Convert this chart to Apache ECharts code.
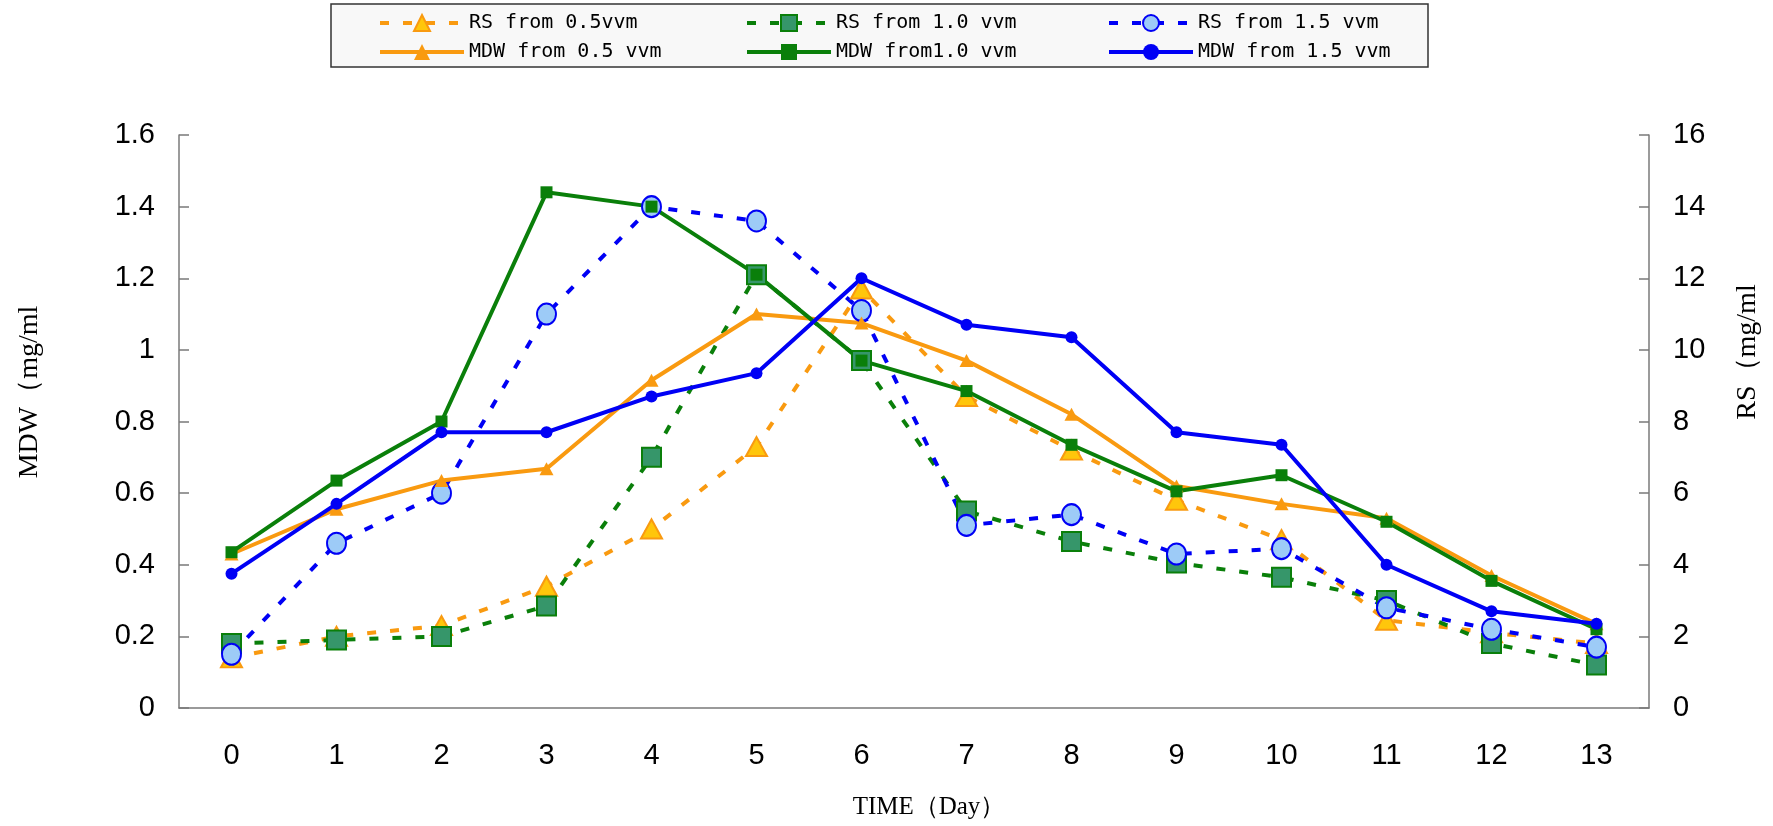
<!DOCTYPE html>
<html>
<head>
<meta charset="utf-8">
<script src="https://cdn.jsdelivr.net/npm/echarts@6/dist/echarts.min.js"></script>
<style>
  html, body { margin: 0; padding: 0; background: #fff; }
  #chart { width: 1773px; height: 826px; }
</style>
</head>
<body>
<div id="chart"></div>
<script>
// 时间（天）
var days = ['0', '1', '2', '3', '4', '5', '6', '7', '8', '9', '10', '11', '12', '13'];

// MDW (mg/ml) 左轴
var mdw05 = [0.43, 0.555, 0.635, 0.668, 0.915, 1.10, 1.075, 0.97, 0.82, 0.62, 0.57, 0.53, 0.37, 0.235];
var mdw10 = [0.435, 0.635, 0.80, 1.44, 1.40, 1.21, 0.97, 0.885, 0.735, 0.605, 0.65, 0.52, 0.355, 0.22];
var mdw15 = [0.375, 0.57, 0.77, 0.77, 0.87, 0.935, 1.20, 1.07, 1.035, 0.77, 0.735, 0.40, 0.27, 0.235];

// RS (mg/ml) 右轴
var rs05 = [1.4, 2.0, 2.3, 3.4, 5.0, 7.3, 11.7, 8.7, 7.2, 5.8, 4.7, 2.45, 2.1, 1.8];
var rs10 = [1.8, 1.9, 2.0, 2.85, 7.0, 12.1, 9.7, 5.5, 4.65, 4.05, 3.65, 3.0, 1.8, 1.2];
var rs15 = [1.5, 4.6, 6.0, 11.0, 14.0, 13.6, 11.1, 5.1, 5.4, 4.3, 4.45, 2.8, 2.2, 1.7];

var leftTicks = { min: 0, max: 1.6, interval: 0.2 };
var rightTicks = { min: 0, max: 16, interval: 2 };

var ORANGE = '#F99A10';
var GREEN = '#0A7F0A';
var BLUE = '#0000F5';

var legendText = { fontFamily: 'DejaVu Sans Mono', fontSize: 20, color: '#000' };
function legendCol(left, names) {
  return {
    orient: 'vertical',
    left: left,
    top: 13,
    padding: 0,
    itemWidth: 84,
    itemHeight: 20,
    itemGap: 9,
    lineStyle: { width: 4 },
    textStyle: legendText,
    data: names
  };
}

function dashed(name, data, color, symbol, size, fill) {
  return {
    name: name,
    type: 'line',
    yAxisIndex: 1,
    data: data,
    symbol: symbol,
    symbolSize: size,
    showAllSymbol: true,
    lineStyle: { color: color, width: 4, type: [9, 14] },
    itemStyle: { color: fill, borderColor: color, borderWidth: 2 }
  };
}

function solid(name, data, color, symbol, size) {
  return {
    name: name,
    type: 'line',
    yAxisIndex: 0,
    data: data,
    symbol: symbol,
    symbolSize: size,
    showAllSymbol: true,
    lineStyle: { color: color, width: 4 },
    itemStyle: { color: color, borderColor: color, borderWidth: 0 }
  };
}

var axisColor = '#7a7a7a';
var tickFont = { fontFamily: 'Liberation Sans', fontSize: 29, color: '#000' };
var nameFont = { fontFamily: 'Liberation Serif', fontSize: 25, fill: '#000' };
var sideNameFont = { fontFamily: 'Liberation Serif', fontSize: 28, fill: '#000' };

var option = {
  backgroundColor: '#fff',
  animation: false,
  graphic: [
    {
      type: 'rect',
      shape: { x: 331, y: 4, width: 1097, height: 63 },
      style: { fill: '#f8f8f8', stroke: '#333', lineWidth: 1.5 },
      z: -1
    },
    {
      type: 'text',
      x: 30, y: 392, rotation: Math.PI / 2,
      style: Object.assign({ text: 'MDW（mg/ml', align: 'center', verticalAlign: 'middle' }, sideNameFont)
    },
    {
      type: 'text',
      x: 1748, y: 352, rotation: Math.PI / 2,
      style: Object.assign({ text: 'RS（mg/ml', align: 'center', verticalAlign: 'middle' }, sideNameFont)
    },
    {
      type: 'text',
      x: 929, y: 807,
      style: Object.assign({ text: 'TIME（Day）', align: 'center', verticalAlign: 'middle' }, nameFont)
    }
  ],
  legend: [
    legendCol(378, ['RS from 0.5vvm', 'MDW from 0.5 vvm']),
    legendCol(745, ['RS from 1.0 vvm', 'MDW from1.0 vvm']),
    legendCol(1107, ['RS from 1.5 vvm', 'MDW from 1.5 vvm'])
  ],
  grid: { left: 179, right: 124, top: 135, bottom: 118 },
  xAxis: {
    type: 'category',
    data: days,
    boundaryGap: true,
    axisLine: { lineStyle: { color: axisColor, width: 1.5 } },
    axisTick: { inside: true, length: 8, lineStyle: { color: axisColor, width: 1.5 } },
    axisLabel: Object.assign({ margin: 33 }, tickFont),
    splitLine: { show: false }
  },
  yAxis: [
    {
      type: 'value',
      min: leftTicks.min, max: leftTicks.max, interval: leftTicks.interval,
      axisLine: { show: true, lineStyle: { color: axisColor, width: 1.5 } },
      axisTick: { show: true, inside: true, length: 10, lineStyle: { color: axisColor, width: 1.5 } },
      axisLabel: Object.assign({ margin: 24 }, tickFont),
      splitLine: { show: false }
    },
    {
      type: 'value',
      position: 'right',
      min: rightTicks.min, max: rightTicks.max, interval: rightTicks.interval,
      axisLine: { show: true, lineStyle: { color: axisColor, width: 1.5 } },
      axisTick: { show: true, inside: true, length: 10, lineStyle: { color: axisColor, width: 1.5 } },
      axisLabel: Object.assign({ margin: 24 }, tickFont),
      splitLine: { show: false }
    }
  ],
  series: [
    dashed('RS from 0.5vvm', rs05, ORANGE, 'triangle', [21, 19], '#FFC60B'),
    dashed('RS from 1.0 vvm', rs10, GREEN, 'rect', 19, '#36966A'),
    dashed('RS from 1.5 vvm', rs15, BLUE, 'circle', [19, 21], '#9DCBF7'),
    solid('MDW from 0.5 vvm', mdw05, ORANGE, 'triangle', [14, 13]),
    solid('MDW from1.0 vvm', mdw10, GREEN, 'rect', 12),
    solid('MDW from 1.5 vvm', mdw15, BLUE, 'circle', 12)
  ]
};

echarts.init(document.getElementById('chart')).setOption(option);
</script>
</body>
</html>
